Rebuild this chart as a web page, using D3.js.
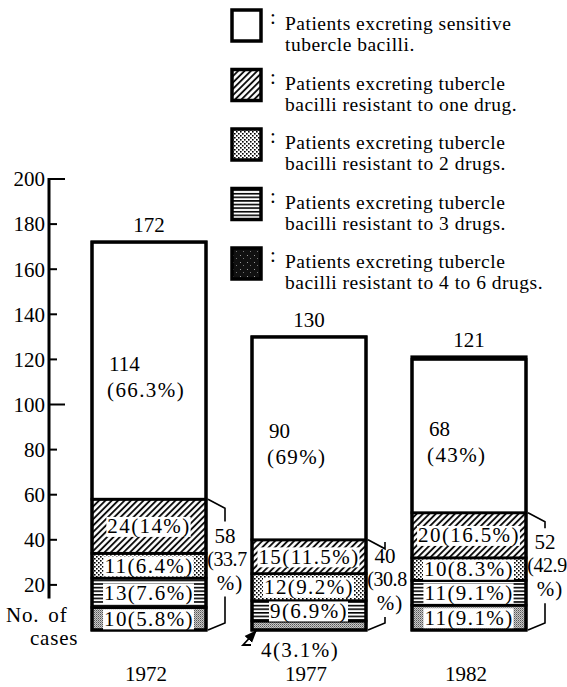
<!DOCTYPE html>
<html>
<head>
<meta charset="utf-8">
<script src="https://cdn.jsdelivr.net/npm/d3@7"></script>
<style>
  body { margin: 0; background: #fff; }
  text { font-family: "Liberation Serif", "DejaVu Serif", serif; fill: #000; }
</style>
</head>
<body>
<svg id="chart" width="567" height="687"></svg>
<script>
// ======================
//  Data
// ======================
var years = ["1972", "1977", "1982"];
var totals = [172, 130, 121];
var sensitive = [114, 90, 68];
var oneDrug = [24, 15, 20];
var twoDrugs = [11, 12, 10];
var threeDrugs = [13, 9, 11];
var fourToSix = [10, 4, 11];
var sensitivePct = ["66.3", "69", "43"];
var oneDrugPct = ["14", "11.5", "16.5"];
var twoDrugsPct = ["6.4", "9.2", "8.3"];
var threeDrugsPct = ["7.6", "6.9", "9.1"];
var fourToSixPct = ["5.8", "3.1", "9.1"];
var resistantTotal = [58, 40, 52];
var resistantPct = ["33.7", "30.8", "42.9"];
var yTicks = [20, 40, 60, 80, 100, 120, 140, 160, 180, 200];

var legendLines = [
    ["Patients excreting sensitive", "tubercle bacilli."],
    ["Patients excreting tubercle", "bacilli resistant to one drug."],
    ["Patients excreting tubercle", "bacilli resistant to 2 drugs."],
    ["Patients excreting tubercle", "bacilli resistant to 3 drugs."],
    ["Patients excreting tubercle", "bacilli resistant to 4 to 6 drugs."]
];

// stack keys, bottom to top
var keys = ["four", "three", "two", "one", "sens"];
var rows = years.map((y, i) => ({
    year: y,
    four: fourToSix[i], three: threeDrugs[i], two: twoDrugs[i], one: oneDrug[i], sens: sensitive[i],
    pct: {four: fourToSixPct[i], three: threeDrugsPct[i], two: twoDrugsPct[i], one: oneDrugPct[i], sens: sensitivePct[i]},
    total: totals[i], res: resistantTotal[i], resPct: resistantPct[i]
}));

var FS = "21px";

// ======================
//  Setup
// ======================
var svg = d3.select("#chart");
svg.append("rect").attr("width", 567).attr("height", 687).attr("fill", "#fff");

var y = d3.scaleLinear().domain([0, 200]).range([630, 179]);
var x = d3.scaleBand().domain(years).range([92, 526]).paddingInner(0.2875).paddingOuter(0);

// patterns
var defs = svg.append("defs");
var pHatch = defs.append("pattern").attr("id", "hatch").attr("patternUnits", "userSpaceOnUse")
    .attr("width", 4.5).attr("height", 4.5).attr("patternTransform", "rotate(45)");
pHatch.append("rect").attr("width", 4.5).attr("height", 4.5).attr("fill", "#fff");
pHatch.append("line").attr("x1", 1).attr("y1", 0).attr("x2", 1).attr("y2", 4.5)
    .attr("stroke", "#000").attr("stroke-width", 1.8);

var pDots = defs.append("pattern").attr("id", "dots").attr("patternUnits", "userSpaceOnUse")
    .attr("width", 4).attr("height", 4);
pDots.append("rect").attr("width", 4).attr("height", 4).attr("fill", "#fff");
pDots.append("rect").attr("x", 0).attr("y", 0).attr("width", 1.6).attr("height", 1.6).attr("fill", "#000");
pDots.append("rect").attr("x", 2).attr("y", 2).attr("width", 1.6).attr("height", 1.6).attr("fill", "#000");

var pLines = defs.append("pattern").attr("id", "hlines").attr("patternUnits", "userSpaceOnUse")
    .attr("width", 4).attr("height", 3.6);
pLines.append("rect").attr("width", 4).attr("height", 3.6).attr("fill", "#fff");
pLines.append("rect").attr("y", 0).attr("width", 4).attr("height", 1.6).attr("fill", "#000");

var pStip = defs.append("pattern").attr("id", "stipple").attr("patternUnits", "userSpaceOnUse")
    .attr("width", 2).attr("height", 2);
pStip.append("rect").attr("width", 2).attr("height", 2).attr("fill", "#c8c8c8");
pStip.append("rect").attr("width", 1).attr("height", 1).attr("fill", "#555");
pStip.append("rect").attr("x", 1).attr("y", 1).attr("width", 1).attr("height", 1).attr("fill", "#888");

var fills = {four: "url(#stipple)", three: "url(#hlines)", two: "url(#dots)", one: "url(#hatch)", sens: "#fff"};

// ======================
//  Y axis
// ======================
var axisG = svg.append("g");
axisG.append("line").attr("x1", 49).attr("x2", 49).attr("y1", y(200) - 1).attr("y2", y(14))
    .attr("stroke", "#000").attr("stroke-width", 3);
axisG.selectAll(".tick").data(yTicks).join("line")
    .attr("x1", 49).attr("x2", d => (d % 100 === 0) ? 65 : 57)
    .attr("y1", d => y(d)).attr("y2", d => y(d))
    .attr("stroke", "#000").attr("stroke-width", 2);
axisG.selectAll(".tl").data(yTicks).join("text")
    .attr("x", 45).attr("y", d => y(d)).attr("dy", "0.35em")
    .attr("text-anchor", "end").style("font-size", FS)
    .text(d => d);
svg.append("text").attr("x", 6).attr("y", 622).style("font-size", FS)
    .style("letter-spacing", "0.8px").style("word-spacing", "3px").text("No. of");
svg.append("text").attr("x", 30).attr("y", 645).style("font-size", FS)
    .style("letter-spacing", "0.8px").text("cases");

// ======================
//  Bars
// ======================
var series = d3.stack().keys(keys)(rows);
var bw = x.bandwidth();

// resistant segments
series.filter(s => s.key !== "sens").forEach(function(s) {
    svg.append("g").selectAll("rect").data(s).join("rect")
        .attr("x", d => x(d.data.year))
        .attr("y", d => y(d[1]))
        .attr("width", bw)
        .attr("height", d => y(d[0]) - y(d[1]))
        .attr("fill", fills[s.key])
        .attr("stroke", "#000").attr("stroke-width", 2.8);
});
// sensitive segment
var sens = series.find(s => s.key === "sens");
svg.append("g").selectAll("rect").data(sens).join("rect")
    .attr("x", d => x(d.data.year)).attr("y", d => y(d[1]))
    .attr("width", bw).attr("height", d => y(d[0]) - y(d[1]))
    .attr("fill", "#fff").attr("stroke", "#000").attr("stroke-width", 2.8);
// thick outer frame
svg.append("g").selectAll("rect").data(rows).join("rect")
    .attr("x", d => x(d.year)).attr("y", d => Math.round(y(d.total)))
    .attr("width", bw).attr("height", d => y(0) - Math.round(y(d.total)))
    .attr("fill", "none").attr("stroke", "#000").attr("stroke-width", 3.2);

// labels in resistant segments, with white boxes behind
series.filter(s => s.key !== "sens").forEach(function(s) {
    s.forEach(function(d) {
        var val = d.data[s.key];
        if (y(d[0]) - y(d[1]) < 14) return; // too thin, labelled outside
        var g = svg.append("g");
        var t = g.append("text")
            .attr("x", x(d.data.year) + bw / 2)
            .attr("y", (y(d[0]) + y(d[1])) / 2).attr("dy", "0.34em")
            .attr("text-anchor", "middle").style("font-size", FS)
            .style("letter-spacing", "1.4px")
            .text(val + "(" + d.data.pct[s.key] + "%)");
        var b = t.node().getBBox();
        g.insert("rect", "text").attr("x", b.x - 1).attr("y", b.y + 2.5)
            .attr("width", b.width + 1).attr("height", b.height - 4).attr("fill", "#fff");
    });
});

// label for the thin 1977 segment, below the bar with arrow
defs.append("marker").attr("id", "arrow").attr("viewBox", "0 0 10 10")
    .attr("refX", 9).attr("refY", 5).attr("markerWidth", 7).attr("markerHeight", 7)
    .attr("orient", "auto").append("path").attr("d", "M0,1 L10,5 L0,9 Z").attr("fill", "#000");
series.filter(s => s.key === "four")[0].forEach(function(d) {
    if (y(d[0]) - y(d[1]) >= 14) return;
    var bx = x(d.data.year);
    svg.append("path")
        .attr("d", `M${bx - 1},${y(0) + 15} L${bx - 9},${y(0) + 15} L${bx + 4},${y(0) + 1}`)
        .attr("fill", "none").attr("stroke", "#000").attr("stroke-width", 1.8)
        .attr("marker-end", "url(#arrow)");
    svg.append("text").attr("x", bx + 9).attr("y", y(0) + 27)
        .style("font-size", FS).style("letter-spacing", "1.4px")
        .text(d.data.four + "(" + d.data.pct.four + "%)");
});

// labels in sensitive segments
rows.forEach(function(d, i) {
    var s = sens[i];
    var mid = (y(s[0]) + y(s[1])) / 2;
    svg.append("text").attr("x", x(d.year) + 17).attr("y", mid).style("font-size", FS).text(d.sens);
    svg.append("text").attr("x", x(d.year) + 15).attr("y", mid + 26).style("font-size", FS)
        .style("letter-spacing", "1.4px")
        .text("(" + d.pct.sens + "%)");
});

// totals above bars
svg.append("g").selectAll("text").data(rows).join("text")
    .attr("x", d => x(d.year) + bw / 2).attr("y", d => y(d.total) - 10)
    .attr("text-anchor", "middle").style("font-size", FS)
    .text(d => d.total);

// brackets for resistant totals
rows.forEach(function(d) {
    var r = x(d.year) + bw + 2;
    var bx = x(d.year) + bw + 19;
    var top = y(d.res), bot = y(0);
    var midB = (top + bot) / 2 + 1;
    svg.append("path")
        .attr("d", `M${r},${top} L${bx},${top + 9} L${bx},${midB - 44}`)
        .attr("fill", "none").attr("stroke", "#000").attr("stroke-width", 1.6);
    svg.append("path")
        .attr("d", `M${bx},${midB + 31} L${bx},${bot - 7} L${r},${bot}`)
        .attr("fill", "none").attr("stroke", "#000").attr("stroke-width", 1.6);
    svg.append("text").attr("x", bx).attr("y", midB - 23).attr("text-anchor", "middle")
        .style("font-size", FS).text(d.res);
    svg.append("text").attr("x", bx + 2).attr("y", midB).attr("text-anchor", "middle")
        .style("font-size", "20px").style("letter-spacing", "-0.4px").text("(" + d.resPct);
    svg.append("text").attr("x", bx + 5).attr("y", midB + 24).attr("text-anchor", "middle")
        .style("font-size", FS).style("letter-spacing", "1px").text("%)");
});

// year labels
svg.append("g").selectAll("text").data(years).join("text")
    .attr("x", d => x(d) + bw / 2 - 3).attr("y", 681)
    .attr("text-anchor", "middle").style("font-size", FS)
    .text(d => d);

// ======================
//  Legend
// ======================
var legendFills = ["#fff", "url(#hatch)", "url(#dots)", "url(#hlines)", "url(#legendDark)"];
var pDark = defs.append("pattern").attr("id", "legendDark").attr("patternUnits", "userSpaceOnUse")
    .attr("width", 7).attr("height", 7);
pDark.append("rect").attr("width", 7).attr("height", 7).attr("fill", "#111");
pDark.append("rect").attr("x", 2).attr("y", 3).attr("width", 1).attr("height", 1).attr("fill", "#999");
pDark.append("rect").attr("x", 5).attr("y", 6).attr("width", 1).attr("height", 1).attr("fill", "#777");

var legend = svg.append("g").selectAll("g").data(legendLines).join("g")
    .attr("transform", (d, i) => `translate(0,${i * 59.5})`);
legend.append("rect").attr("x", 232).attr("y", 10).attr("width", 29).attr("height", 31)
    .attr("fill", (d, i) => legendFills[i]).attr("stroke", "#000").attr("stroke-width", 3.5);
legend.append("text").attr("x", 270).attr("y", 24).style("font-size", FS).text(":");
legend.append("text").attr("x", 285).attr("y", 30).style("font-size", "19.5px")
    .style("letter-spacing", "0.5px").text(d => d[0]);
legend.append("text").attr("x", 285).attr("y", 51).style("font-size", "19.5px")
    .style("letter-spacing", "0.5px").text(d => d[1]);
</script>
</body>
</html>
